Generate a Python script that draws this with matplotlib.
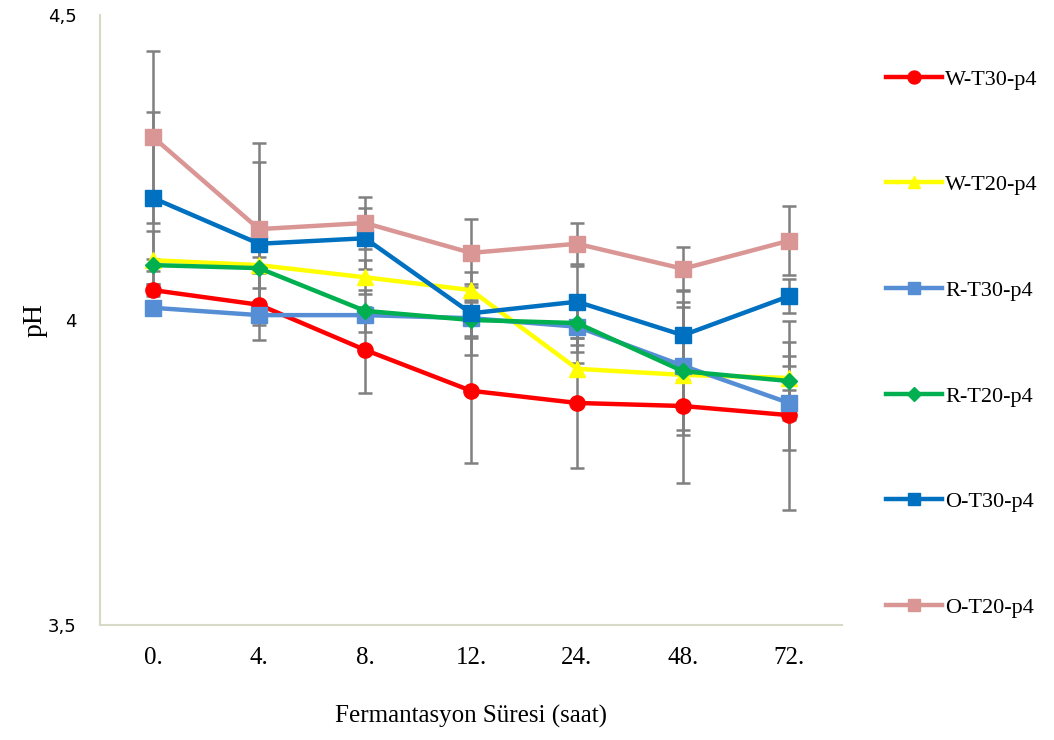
import matplotlib
matplotlib.use("Agg")
import matplotlib.pyplot as plt

times = ["0.", "4.", "8.", "12.", "24.", "48.", "72."]
series_names = ["W-T30-p4", "W-T20-p4", "R-T30-p4", "R-T20-p4", "O-T30-p4", "O-T20-p4"]

w_t30 = [4.049, 4.025, 3.951, 3.884, 3.864, 3.859, 3.844]
w_t20 = [4.098, 4.090, 4.070, 4.049, 3.920, 3.910, 3.905]
r_t30 = [4.020, 4.008, 4.008, 4.003, 3.989, 3.925, 3.864]
r_t20 = [4.090, 4.085, 4.015, 4.000, 3.995, 3.916, 3.900]
o_t30 = [4.200, 4.125, 4.134, 4.011, 4.030, 3.975, 4.039]
o_t20 = [4.300, 4.149, 4.159, 4.110, 4.125, 4.084, 4.130]

w_t30_err = [0.010, 0.058, 0.070, 0.118, 0.107, 0.126, 0.155]
w_t20_err = [0.048, 0.013, 0.028, 0.010, 0.010, 0.010, 0.020]
r_t30_err = [0.010, 0.010, 0.010, 0.030, 0.041, 0.105, 0.077]
r_t20_err = [0.010, 0.033, 0.034, 0.030, 0.036, 0.105, 0.064]
o_t30_err = [0.141, 0.134, 0.050, 0.068, 0.059, 0.074, 0.028]
o_t20_err = [0.141, 0.141, 0.043, 0.056, 0.034, 0.036, 0.057]

values = [w_t30, w_t20, r_t30, r_t20, o_t30, o_t20]
errors = [w_t30_err, w_t20_err, r_t30_err, r_t20_err, o_t30_err, o_t20_err]
colors = ["#FF0000", "#FFFF00", "#558ED5", "#00B050", "#0070C0", "#D99694"]
markers = ["o", "^", "s", "D", "s", "s"]
msizes = [11, 11, 11, 8, 11, 11]

fig = plt.figure(figsize=(10.54, 7.4), dpi=100)
ax = fig.add_axes([100 / 1054, 115 / 740, 742 / 1054, 610 / 740])

x = list(range(len(times)))

# error bars first, underneath every line
for vals, errs in zip(values, errors):
    ax.errorbar(x, vals, yerr=errs, fmt="none", ecolor="#808080",
                elinewidth=1.8, capsize=5, capthick=1.8, zorder=1)

handles = []
for i, vals in enumerate(values):
    h, = ax.plot(x, vals, color=colors[i], marker=markers[i], markersize=msizes[i],
                 linewidth=3.2, label=series_names[i], zorder=2 + i)
    handles.append(h)

ax.set_xlim(-0.5, 6.5)
ax.set_ylim(3.5, 4.5)
ax.set_xticks(x)
ax.set_xticklabels(times, fontfamily="Liberation Serif", fontsize=18)
ax.set_yticks([3.5, 4.0, 4.5])
ax.set_yticklabels(["3,5", "4", "4,5"], fontfamily="DejaVu Sans", fontsize=13)
ax.tick_params(axis="both", length=0)
ax.tick_params(axis="x", pad=16)
ax.tick_params(axis="y", pad=17)

for s in ["top", "right"]:
    ax.spines[s].set_visible(False)
for s in ["left", "bottom"]:
    ax.spines[s].set_color("#D9D9C8")
    ax.spines[s].set_linewidth(1.5)

ax.set_xlabel("Fermantasyon Süresi (saat)", fontfamily="Liberation Serif", fontsize=18, labelpad=26)
fig.text(35 / 1054, 1 - 320 / 740, "pH", rotation=90, ha="center", va="center",
         fontfamily="Liberation Serif", fontsize=20)

fig.legend(handles=handles, loc="upper left", bbox_to_anchor=(866 / 1054, 1 - 49 / 740),
           frameon=False, prop={"family": "Liberation Serif", "size": 16},
           handlelength=2.5, handletextpad=0.15, labelspacing=3.83, markerscale=0.85)

fig.savefig("out.png", dpi=100)
